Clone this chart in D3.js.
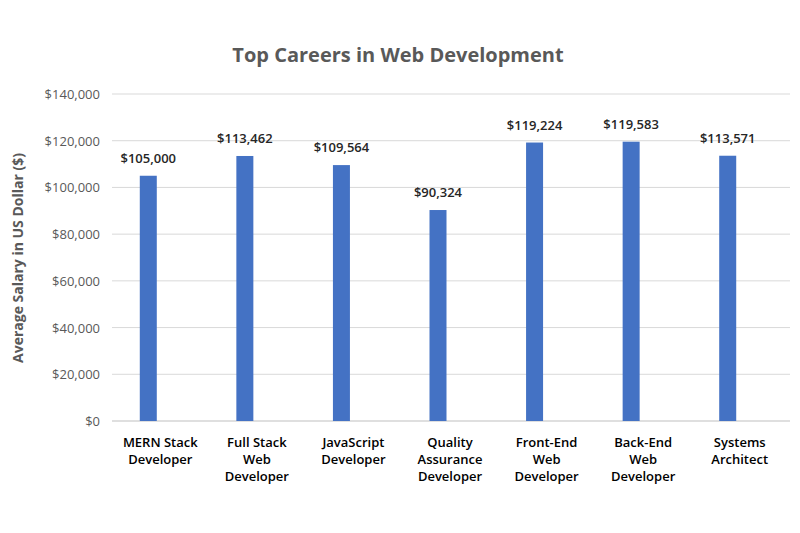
<!DOCTYPE html><html><head><meta charset="utf-8"><script src="https://cdn.jsdelivr.net/npm/d3@7"></script>
<style>body{margin:0;background:#fff}</style></head><body><svg id="c" width="800" height="533"></svg>
<script>
const categories=[["MERN Stack","Developer"],["Full Stack","Web","Developer"],["JavaScript","Developer"],["Quality","Assurance","Developer"],["Front-End","Web","Developer"],["Back-End","Web","Developer"],["Systems","Architect"]];
const values=[105000,113462,109564,90324,119224,119583,113571];
const yTicks=[0,20000,40000,60000,80000,100000,120000,140000];
const svg=d3.select("#c");
const font="'Open Sans', sans-serif";
const x=d3.scaleBand().domain(d3.range(values.length)).range([112,788]);
const y=d3.scaleLinear().domain([0,140000]).range([421,94]);
const fmt=v=>"$"+d3.format(",")(v);
svg.append("g").selectAll("line").data(yTicks).join("line")
 .attr("x1",112).attr("x2",790).attr("y1",d=>y(d)).attr("y2",d=>y(d))
 .attr("stroke",d=>d===0?"#bfbfbf":"#d9d9d9").attr("stroke-width",1);
svg.append("g").selectAll("text").data(yTicks).join("text")
 .attr("x",100).attr("y",d=>y(d)+5).attr("text-anchor","end").attr("font-family",font).attr("font-size",13).attr("fill","#595959").text(fmt);
const bw=17, off=-12;
svg.append("g").selectAll("rect").data(values).join("rect")
 .attr("x",(d,i)=>x(i)+x.bandwidth()/2+off-bw/2).attr("width",bw)
 .attr("y",d=>y(d)).attr("height",d=>y(0)-y(d)).attr("fill","#4472c4");
svg.append("g").selectAll("text").data(values).join("text")
 .attr("x",(d,i)=>x(i)+x.bandwidth()/2+off).attr("y",d=>y(d)-13)
 .attr("text-anchor","middle").attr("font-family",font).attr("font-size",13).attr("font-weight","600").attr("fill","#262626").text(fmt);
const lab=svg.append("g").selectAll("text").data(categories).join("text")
 .attr("text-anchor","middle").attr("font-family",font).attr("font-size",13).attr("font-weight","600").attr("fill","#000")
 .attr("transform",(d,i)=>`translate(${x(i)+x.bandwidth()/2},${447})`);
lab.selectAll("tspan").data(d=>d).join("tspan").attr("x",0).attr("dy",(d,i)=>i?17:0).text(d=>d);
svg.append("text").attr("x",398).attr("y",62).attr("text-anchor","middle").attr("font-family",font).attr("font-size",20).attr("font-weight","bold").attr("fill","#595959").text("Top Careers in Web Development");
svg.append("text").attr("transform","translate(23,258) rotate(-90)").attr("text-anchor","middle").attr("font-family",font).attr("font-size",14).attr("font-weight","bold").attr("fill","#595959").text("Average Salary in US  Dollar ($)");
</script></body></html>
